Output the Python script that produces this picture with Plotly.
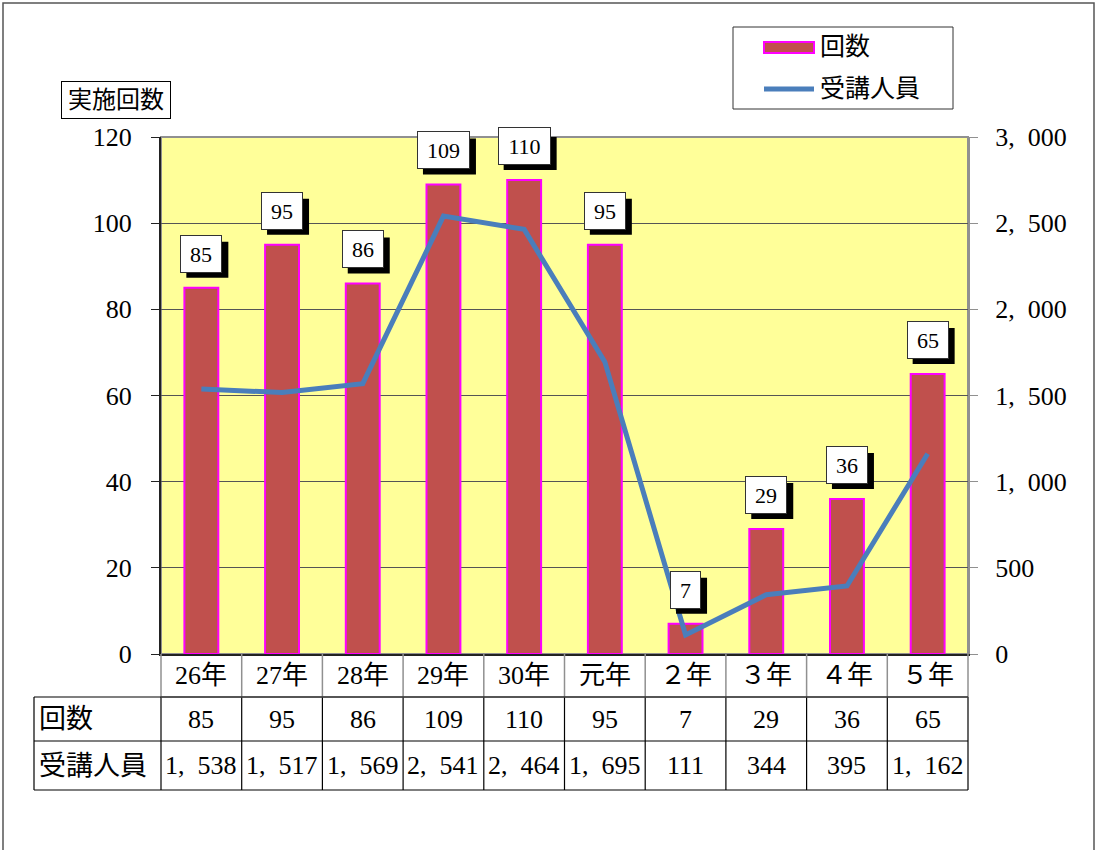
import plotly.graph_objects as go

categories = ["26年", "27年", "28年", "29年", "30年", "元年", "２年", "３年", "４年", "５年"]
sessions = [85, 95, 86, 109, 110, 95, 7, 29, 36, 65]
attendees = [1538, 1517, 1569, 2541, 2464, 1695, 111, 344, 395, 1162]
left_ticks = [0, 20, 40, 60, 80, 100, 120]
right_ticks = [0, 500, 1000, 1500, 2000, 2500, 3000]
row_names = ["回数", "受講人員"]
legend_names = ["回数", "受講人員"]
left_title = "実施回数"

W, H = 1098, 850
L, R, T, B = 161, 968, 137, 654
FONT = "Liberation Serif, Noto Sans CJK JP, serif"
BAR_COLOR = "#C0504D"
BAR_EDGE = "#FF00FF"
LINE_COLOR = "#4A7EBB"


def px(x):
    return (x - L) / (R - L)


def py(y):
    return (B - y) / (B - T)


def fmt(v):
    return f"{v:,}".replace(",", ",\u2002")


def text_at(x, y, text, size=26, xanchor="center", **kw):
    return dict(x=px(x), y=py(y), xref="paper", yref="paper", text=text,
                showarrow=False, xanchor=xanchor, yanchor="middle",
                font=dict(family=FONT, size=size, color="black"), **kw)


fig = go.Figure()
fig.add_trace(go.Bar(
    x=categories, y=sessions, name=legend_names[0],
    marker=dict(color=BAR_COLOR, line=dict(color=BAR_EDGE, width=2)),
    width=0.42, showlegend=False,
))
fig.add_trace(go.Scatter(
    x=categories, y=attendees, name=legend_names[1], yaxis="y2",
    mode="lines", line=dict(color=LINE_COLOR, width=5),
    showlegend=False,
))

shapes = []
annotations = []

# outer frame
shapes.append(dict(type="rect", xref="paper", yref="paper",
                   x0=px(3), x1=px(1094), y0=py(3), y1=py(900),
                   line=dict(color="#555555", width=1.5), layer="below"))
# plot border (grey top/right)
shapes.append(dict(type="rect", xref="paper", yref="paper",
                   x0=0, x1=1, y0=0, y1=1,
                   line=dict(color="#909090", width=2), layer="below"))

# data labels with shadows
LAB_UP = 34
for c, v in zip(categories, sessions):
    s = str(v)
    w = 11 * len(s) + 16
    shapes.append(dict(type="rect", xref="x", yref="y",
                       xsizemode="pixel", ysizemode="pixel", xanchor=c, yanchor=v,
                       x0=-w / 2 - 2 + 6, x1=w / 2 + 2 + 6,
                       y0=LAB_UP - 18 - 6, y1=LAB_UP + 18 - 6,
                       fillcolor="black", line=dict(width=0), layer="above"))
    annotations.append(dict(x=c, y=v, xref="x", yref="y", text=s, showarrow=False,
                            xanchor="center", yanchor="middle",
                            yshift=LAB_UP, width=w, height=34,
                            bgcolor="white", bordercolor="#333333", borderwidth=1,
                            font=dict(family=FONT, size=22, color="black")))

# table
n = len(categories)
colw = (R - L) / n
row_y = [B, 697, 741, 790]
for i in range(n + 1):
    x = L + i * colw
    shapes.append(dict(type="line", xref="paper", yref="paper",
                       x0=px(x), x1=px(x), y0=py(row_y[0]), y1=py(row_y[1]),
                       line=dict(color="#909090", width=1.5)))
for x in [34] + [L + i * colw for i in range(n + 1)]:
    shapes.append(dict(type="line", xref="paper", yref="paper",
                       x0=px(x), x1=px(x), y0=py(row_y[1]), y1=py(row_y[3]),
                       line=dict(color="black", width=1.2)))
shapes.append(dict(type="line", xref="paper", yref="paper",
                   x0=px(L), x1=px(R), y0=py(row_y[1]), y1=py(row_y[1]),
                   line=dict(color="#909090", width=1.5)))
for yy in row_y[1:]:
    shapes.append(dict(type="line", xref="paper", yref="paper",
                       x0=px(34), x1=px(R), y0=py(yy), y1=py(yy),
                       line=dict(color="black", width=1.2)))

row_vals = [[str(v) for v in sessions], [fmt(v) for v in attendees]]
for i, c in enumerate(categories):
    cx = L + (i + 0.5) * colw
    annotations.append(text_at(cx, (row_y[0] + row_y[1]) / 2, c))
    for r in range(2):
        annotations.append(text_at(cx, (row_y[r + 1] + row_y[r + 2]) / 2, row_vals[r][i]))
for r, name in enumerate(row_names):
    annotations.append(text_at(37, (row_y[r + 1] + row_y[r + 2]) / 2, name, size=27, xanchor="left"))

# left axis title box
annotations.append(text_at(116, 100, left_title, size=24, bgcolor="white",
                           bordercolor="black", borderwidth=1, width=106, height=34))

# custom legend
shapes.append(dict(type="rect", xref="paper", yref="paper",
                   x0=px(733), x1=px(953), y0=py(109), y1=py(27),
                   line=dict(color="#333333", width=1), fillcolor="white"))
shapes.append(dict(type="rect", xref="paper", yref="paper",
                   x0=px(764), x1=px(814), y0=py(53), y1=py(42),
                   line=dict(color=BAR_EDGE, width=2), fillcolor=BAR_COLOR))
shapes.append(dict(type="line", xref="paper", yref="paper",
                   x0=px(764), x1=px(814), y0=py(89), y1=py(89),
                   line=dict(color=LINE_COLOR, width=5)))
annotations.append(text_at(818, 47, legend_names[0], size=25, xanchor="left"))
annotations.append(text_at(818, 89, legend_names[1], size=25, xanchor="left"))

fig.update_layout(
    width=W, height=H,
    margin=dict(l=L, r=W - R, t=T, b=H - B, pad=0),
    paper_bgcolor="white", plot_bgcolor="#FFFF99",
    font=dict(family=FONT, size=22, color="black"),
    xaxis=dict(showticklabels=False, ticks="", showgrid=False, showline=True,
               linecolor="#222222", linewidth=2, fixedrange=True),
    yaxis=dict(range=[0, 120], tickvals=left_ticks, ticktext=[str(v) for v in left_ticks],
               showgrid=True, gridcolor="#555555", gridwidth=1, zeroline=False,
               showline=True, linecolor="#222222", linewidth=2,
               ticks="outside", ticklen=8, tickcolor="#222222", ticklabelstandoff=14,
               tickfont=dict(family=FONT, size=26)),
    yaxis2=dict(range=[0, 3000], overlaying="y", side="right", tickvals=right_ticks,
                ticktext=[fmt(v) for v in right_ticks], showgrid=False, zeroline=False,
                showline=True, linecolor="#909090", linewidth=2,
                ticks="outside", ticklen=8, tickcolor="#909090", ticklabelstandoff=12,
                tickfont=dict(family=FONT, size=26)),
    shapes=shapes, annotations=annotations,
)

fig.write_html("out.html", config={"displayModeBar": False},
               post_script="document.body.style.margin='0';")
